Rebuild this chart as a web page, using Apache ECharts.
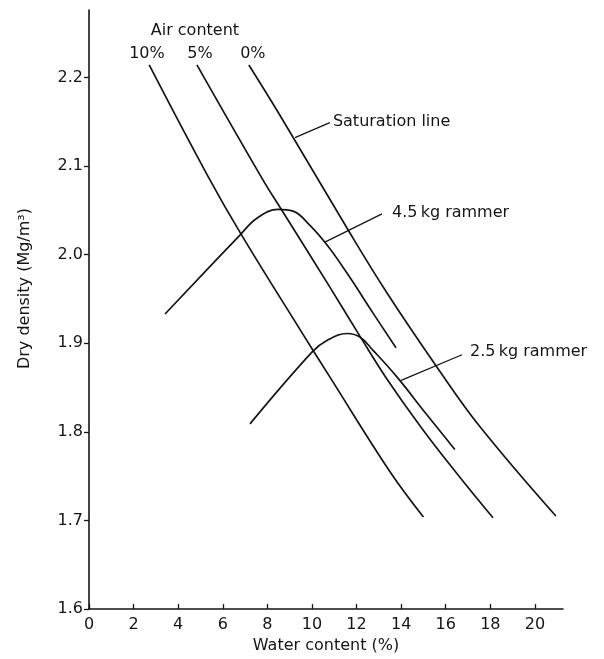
<!DOCTYPE html>
<html>
<head>
<meta charset="utf-8">
<script src="https://cdn.jsdelivr.net/npm/echarts@6/dist/echarts.min.js"></script>
<style>
  html, body { margin: 0; padding: 0; background: #ffffff; }
  #chart { width: 604px; height: 659px; }
</style>
</head>
<body>
<div id="chart"></div>
<script>
// Air-void lines: [water content %, dry density Mg/m3]
const airVoid10 = [[2.7, 2.214], [5.3, 2.090], [6.8, 2.024], [9.55, 1.912], [10.8, 1.862], [13.5, 1.755], [15.0, 1.704]];
const airVoid5  = [[4.84, 2.214], [7.76, 2.086], [8.65, 2.050], [10.81, 1.963], [12.15, 1.908], [13.3, 1.862], [14.9, 1.805], [16.5, 1.753], [18.12, 1.703]];
const airVoid0  = [[7.17, 2.214], [8.57, 2.157], [11.57, 2.030], [13.36, 1.957], [15.61, 1.873], [17.53, 1.806], [20.94, 1.705]];

// Compaction curves
const rammer45 = [[3.41, 1.933], [6.77, 2.022], [7.53, 2.041], [8.48, 2.051], [9.15, 2.049], [9.91, 2.033], [10.67, 2.011], [11.6, 1.978], [12.74, 1.934], [13.77, 1.895]];
const rammer25 = [[7.22, 1.809], [10.0, 1.890], [10.67, 1.903], [11.57, 1.911], [12.15, 1.907], [12.74, 1.892], [13.81, 1.862], [15.1, 1.821], [16.41, 1.780]];

// Axis ticks
const xTicks = [0, 2, 4, 6, 8, 10, 12, 14, 16, 18, 20];
const yTicks = [1.6, 1.7, 1.8, 1.9, 2.0, 2.1, 2.2];

// Callout leaders and their captions
const leaderSaturation = [[9.24, 2.132], [10.8, 2.149]];
const leader45 = [[10.58, 2.014], [13.14, 2.046]];
const leader25 = [[14.0, 1.858], [16.73, 1.887]];
const captionsLeft = [[10.94, 2.150, 'Saturation line'], [13.59, 2.047, '4.5\u2009kg rammer'], [17.09, 1.890, '2.5\u2009kg rammer']];
const captionsCenter = [[4.75, 2.252, 'Air content'], [2.6, 2.227, '10%'], [4.98, 2.227, '5%'], [7.35, 2.227, '0%']];

const ink = '#151515';
const font = 'DejaVu Sans';

function curve(name, data, smooth) {
  return {
    name: name, type: 'line', data: data, smooth: smooth,
    symbol: 'none', silent: true,
    lineStyle: { color: ink, width: 1.7 }
  };
}
function leader(data) {
  return {
    type: 'line', data: data, symbol: 'none', silent: true,
    lineStyle: { color: ink, width: 1.3 }
  };
}
function captions(data, position) {
  return {
    type: 'scatter', data: data, symbolSize: 0, silent: true,
    itemStyle: { opacity: 1 },
    label: {
      show: true, position: position, distance: 0, color: ink, fontFamily: font, fontSize: 16,
      formatter: function (p) { return p.data[2]; }
    }
  };
}

const chart = echarts.init(document.getElementById('chart'), null, { renderer: 'canvas' });
chart.setOption({
  backgroundColor: '#ffffff',
  animation: false,
  grid: { left: 89, right: 41, top: 10, bottom: 45 },
  xAxis: {
    type: 'value', min: 0, max: 21.26,
    name: 'Water content (%)', nameLocation: 'middle', nameGap: 27,
    nameTextStyle: { color: ink, fontFamily: font, fontSize: 16 },
    axisLine: { show: true, lineStyle: { color: ink, width: 1.6 } },
    axisTick: { show: true, inside: true, length: 5, customValues: xTicks, lineStyle: { color: ink, width: 1.3 } },
    axisLabel: { customValues: xTicks, color: ink, fontFamily: font, fontSize: 16, margin: 8 },
    splitLine: { show: false }
  },
  yAxis: {
    type: 'value', min: 1.6, max: 2.276,
    name: 'Dry density (Mg/m\u00b3)', nameLocation: 'middle', nameGap: 56,
    nameTextStyle: { color: ink, fontFamily: font, fontSize: 16, padding: [0, 0, 0, 42] },
    axisLine: { show: true, lineStyle: { color: ink, width: 1.6 } },
    axisTick: { show: true, inside: false, length: 5, customValues: yTicks, lineStyle: { color: ink, width: 1.3 } },
    axisLabel: {
      customValues: yTicks, color: ink, fontFamily: font, fontSize: 16, margin: 6,
      formatter: function (v) { return v.toFixed(1); }
    },
    splitLine: { show: false }
  },
  series: [
    curve('10% air', airVoid10, 0.4),
    curve('5% air', airVoid5, 0.4),
    curve('0% air', airVoid0, 0.4),
    curve('4.5 kg rammer', rammer45, 0.4),
    curve('2.5 kg rammer', rammer25, 0.4),
    leader(leaderSaturation),
    leader(leader45),
    leader(leader25),
    captions(captionsLeft, 'right'),
    captions(captionsCenter, 'inside')
  ]
});
</script>
</body>
</html>
